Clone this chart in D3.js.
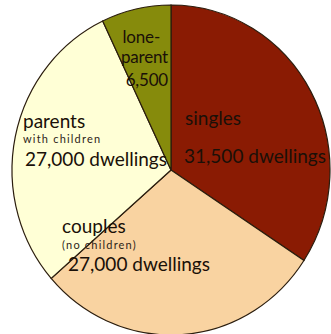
<!DOCTYPE html>
<html>
<head>
<meta charset="utf-8">
<script src="https://cdn.jsdelivr.net/npm/d3@7/dist/d3.min.js"></script>
<style>
  html, body { margin: 0; padding: 0; background: #ffffff; }
  svg { display: block; }
  text { font-family: Lato, "Open Sans", sans-serif; fill: #1a1008; }
  text.small { fill: #2e2418; }
</style>
</head>
<body>
<svg id="chart" width="331" height="334"></svg>
<script>
// Dwellings by household type
const categories = ["singles", "couples", "parents", "lone-parent"];
const dwellings  = [31500, 27000, 27000, 6500];
const sliceColors = ["#8a1b03", "#f9d3a1", "#ffffd6", "#868b0c"];

// Label lines per household type: [text, size class]
const labelLines = {
  "singles":     [["singles", "big"], ["31,500 dwellings", "big"]],
  "couples":     [["couples", "big"], ["(no children)", "small"], ["27,000 dwellings", "big"]],
  "parents":     [["parents", "big"], ["with children", "small"], ["27,000 dwellings", "big"]],
  "lone-parent": [["lone-", "mid"], ["parent", "mid"], ["6,500", "mid"]]
};
const fontSize = { big: 19, mid: 17, small: 11 };
const spacing  = { big: 0, mid: -0.2, small: 1.2 };

const W = 331, H = 334;
const cx = 171, cy = 170, rx = 159, ry = 165;

const svg = d3.select("#chart");

const pie = d3.pie().sort(null).value(d => d.value).startAngle(0).endAngle(2 * Math.PI);
const arcs = pie(categories.map((c, i) => ({ key: c, value: dwellings[i] })));

const arc = d3.arc().innerRadius(0).outerRadius(ry);
const color = d3.scaleOrdinal().domain(categories).range(sliceColors);

// Slightly oval pie: scale the circular arcs horizontally
const pieG = svg.append("g")
  .attr("transform", `translate(${cx},${cy}) scale(${rx / ry},1)`);

pieG.selectAll("path")
  .data(arcs)
  .join("path")
  .attr("d", arc)
  .attr("fill", d => color(d.data.key))
  .attr("stroke", "#2b1d0e")
  .attr("stroke-width", 1.2)
  .attr("vector-effect", "non-scaling-stroke");

// Label block positions: x and one baseline per line
const labelPos = {
  "singles":     { x: [185, 184],      y: [125, 163],      anchor: "start" },
  "couples":     { x: [62, 62, 68],    y: [233, 249, 271], anchor: "start" },
  "parents":     { x: [23, 23, 25],    y: [128, 143, 166], anchor: "start" },
  "lone-parent": { x: [160, 168, 168], y: [43, 63, 86],    anchor: "end" }
};

const labels = svg.append("g");
categories.forEach(c => {
  const p = labelPos[c];
  labelLines[c].forEach((ln, i) => {
    labels.append("text")
      .attr("class", ln[1])
      .attr("x", p.x[i])
      .attr("y", p.y[i])
      .attr("text-anchor", p.anchor)
      .attr("font-size", fontSize[ln[1]])
      .attr("letter-spacing", spacing[ln[1]])
      .text(ln[0]);
  });
});
</script>
</body>
</html>
